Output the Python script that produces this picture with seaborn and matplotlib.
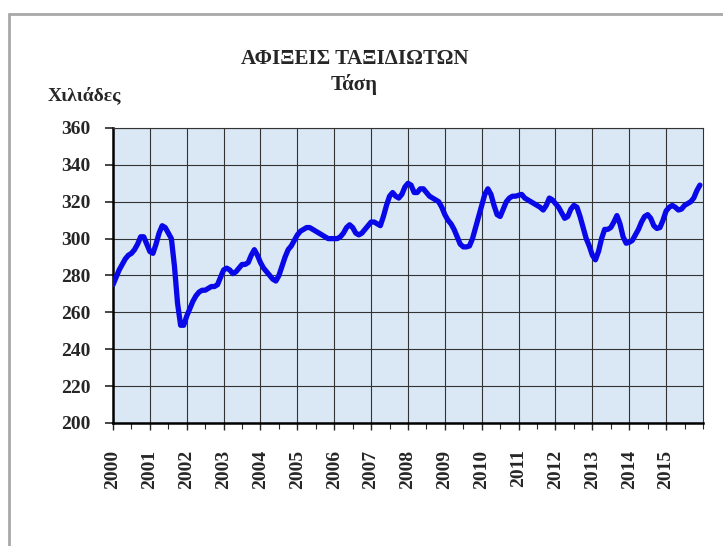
#!/usr/bin/env python
"""Arrivals of travellers - trend line (monthly, 2000-2015)."""

import matplotlib
matplotlib.use('Agg')
import matplotlib.pyplot as plt
from matplotlib.lines import Line2D
from matplotlib.ticker import MultipleLocator
import seaborn as sns
import pandas as pd

# Monthly trend values (thousands), one row per year
years = list(range(2000, 2016))
values_2000 = [275, 279, 283, 286, 289, 291, 292, 294, 297, 301, 301, 297]
values_2001 = [293, 292, 297, 303, 307, 306, 303, 300, 285, 265, 253, 253]
values_2002 = [258, 262, 266, 269, 271, 272, 272, 273, 274, 274, 275, 279]
values_2003 = [283, 284, 283, 281, 282, 284, 286, 286, 287, 291, 294, 291]
values_2004 = [287, 284, 282, 280, 278, 277, 280, 285, 290, 294, 296, 299]
values_2005 = [302, 304, 305, 306, 306, 305, 304, 303, 302, 301, 300, 300]
values_2006 = [300, 300, 301, 303, 306, 307.5, 306, 303, 302, 303, 305, 307]
values_2007 = [309, 309, 308, 307, 312, 318, 323, 325, 323, 322, 324, 328]
values_2008 = [330, 329, 325, 325, 327, 327, 325, 323, 322, 321, 320, 317]
values_2009 = [313, 310, 308, 305, 301, 297, 295.5, 295.5, 296, 300, 306, 312]
values_2010 = [318, 324, 327, 324, 318, 313, 312, 316, 320, 322, 323, 323]
values_2011 = [323.5, 324, 322, 321, 320, 319, 318, 317, 315.5, 318, 322, 321]
values_2012 = [319, 317, 314, 311, 312, 316, 318, 317, 312, 306, 300, 296]
values_2013 = [291, 288.5, 293, 300, 305, 305, 306, 309, 312.5, 308, 301, 297.5]
values_2014 = [298, 299, 302, 305, 309, 312, 313, 311, 307, 305.5, 306, 310]
values_2015 = [315, 317, 318, 317, 315.5, 316, 318, 319, 320, 322, 326, 329]

title = "ΑΦΙΞΕΙΣ ΤΑΞΙΔΙΩΤΩΝ\nΤάση"
unit_label = "Χιλιάδες"
year_labels = [str(y) for y in years]

sns.set_style('ticks')
plt.rcParams.update({
    'font.family': ['Liberation Serif', 'DejaVu Serif'],
    'font.weight': 'bold',
})

all_values = (values_2000 + values_2001 + values_2002 + values_2003 +
              values_2004 + values_2005 + values_2006 + values_2007 +
              values_2008 + values_2009 + values_2010 + values_2011 +
              values_2012 + values_2013 + values_2014 + values_2015)
time = [years[0] + i / 12 for i in range(len(all_values))]
df = pd.DataFrame({'time': time, 'value': all_values})

fig = plt.figure(figsize=(7.23, 5.46), dpi=100)
ax = fig.add_axes([0.1563, 0.2253, 0.816, 0.5403])
ax.set_facecolor('#dae7f5')

sns.lineplot(data=df, x='time', y='value', ax=ax, color='#0808e8',
             linewidth=3.8, solid_capstyle='round', solid_joinstyle='round',
             zorder=5)

ax.set_xlim(2000, 2016)
ax.set_ylim(200, 360)
ax.yaxis.set_major_locator(MultipleLocator(20))
ax.set_xticks(years)
ax.set_xticklabels(year_labels, rotation=90)
ax.xaxis.set_minor_locator(MultipleLocator(0.5))

ax.grid(True, which='major', color='#333333', linewidth=0.8)
ax.set_axisbelow(True)
ax.tick_params(axis='y', labelsize=14, length=6, width=1.2, pad=10)
ax.tick_params(axis='x', which='major', labelsize=14, length=5, width=1.0, pad=14)
ax.tick_params(axis='x', which='minor', length=4, width=0.8)
for lab in ax.get_xticklabels() + ax.get_yticklabels():
    lab.set_fontweight('bold')

for side in ['top', 'right']:
    ax.spines[side].set_color('#333333')
    ax.spines[side].set_linewidth(0.8)
for side in ['left', 'bottom']:
    ax.spines[side].set_color('black')
    ax.spines[side].set_linewidth(1.8)

ax.set_xlabel('')
ax.set_ylabel('')

fig.text(0.49, 0.868, title, ha='center', va='center', fontsize=15,
         fontweight='bold', linespacing=1.3)
fig.text(0.066, 0.826, unit_label, ha='left', va='center', fontsize=14,
         fontweight='bold')

# outer frame (only top and left visible in the reference)
fig.add_artist(Line2D([0.0124, 1.0], [0.9744, 0.9744], transform=fig.transFigure,
                      color='#a8a8a8', linewidth=2.0))
fig.add_artist(Line2D([0.0124, 0.0124], [0.9744, 0.0], transform=fig.transFigure,
                      color='#a8a8a8', linewidth=2.0))

fig.savefig('out.png', dpi=100, facecolor='white')
